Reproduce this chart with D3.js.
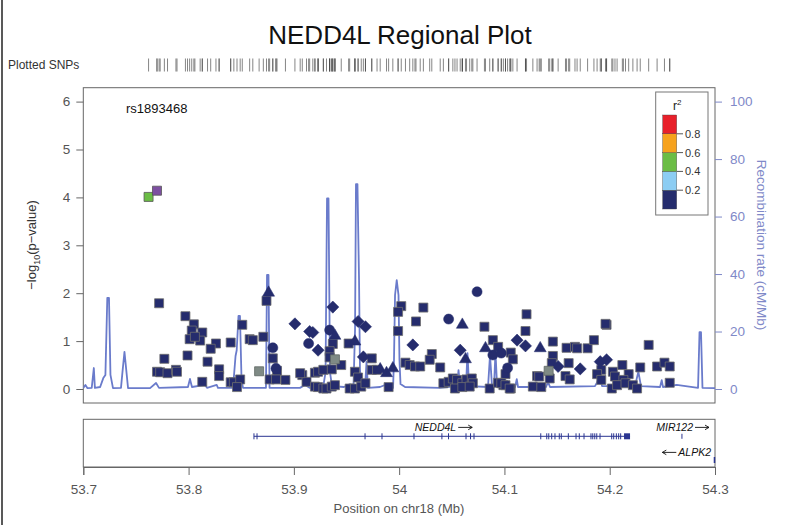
<!DOCTYPE html>
<html>
<head>
<meta charset="utf-8">
<script src="https://cdn.jsdelivr.net/npm/d3@7"></script>
<style>
  body { margin: 0; background: #fff; }
  svg { display: block; font-family: "Liberation Sans", Arial, Helvetica, sans-serif; }
</style>
</head>
<body>
<svg id="chart" width="785" height="525"></svg>
<script>
// ---- data -------------------------------------------------------------
const xTicks = [53.7, 53.8, 53.9, 54.0, 54.1, 54.2, 54.3];
const yTicks = [0, 1, 2, 3, 4, 5, 6];
const recombTicks = [0, 20, 40, 60, 80, 100];
const r2Breaks = [0.2, 0.4, 0.6, 0.8];
const r2Colors = ["#252c6d", "#8ccdf3", "#6bbd45", "#f6a21d", "#e8202a"];
const r2LegendLabels = ["0.2", "0.4", "0.6", "0.8"];

const leadSnp = { name: "rs1893468", pos: 53.770, logp: 4.14 };

// [position (Mb), -log10 p]
const snpSquares = [
  [53.772,1.79],[53.797,1.52],[53.805,1.35],[53.803,1.22],[53.813,1.18],[53.801,1.04],
  [53.811,1.01],[53.806,1.09],[53.826,0.95],[53.821,0.84],[53.840,0.97],[53.851,1.34],
  [53.858,1.04],[53.861,1.02],[53.871,1.09],[53.777,0.63],[53.799,0.70],[53.818,0.57],
  [53.770,0.36],[53.773,0.35],[53.780,0.33],[53.788,0.40],[53.789,0.36],[53.829,0.41],
  [53.829,0.27],[53.813,0.15],[53.840,0.14],[53.843,0.14],[53.849,0.20],[53.846,0.04],
  [53.874,1.84],[53.880,0.64],[53.884,0.38],[53.877,0.20],[53.883,0.20],[53.892,0.19],
  [53.908,0.29],[53.912,0.15],[53.937,0.94],[53.934,0.79],[53.934,0.66],[53.945,0.50],
  [53.906,0.33],[53.920,0.34],[53.923,0.36],[53.928,0.40],[53.936,0.41],
  [53.920,0.05],[53.923,0.04],[53.928,0.01],[53.931,0.01],[53.936,0.05],[53.939,0.08],
  [53.952,0.95],[53.974,0.64],[53.958,0.36],[53.961,0.24],[53.953,0.01],[53.958,0.01],
  [53.964,0.05],[53.968,0.12],[53.974,0.40],[53.979,0.40],[53.990,0.04],
  [54.002,1.73],[53.999,1.61],[54.023,1.70],[54.016,1.41],[53.999,1.21],
  [54.031,0.73],[54.029,0.61],[54.039,0.45],[54.006,0.55],[54.010,0.50],[54.015,0.47],
  [54.020,0.47],[54.081,1.30],[54.089,1.02],[54.094,0.88],[54.106,0.76],[54.108,0.62],
  [54.101,0.31],[54.042,0.12],[54.047,0.15],[54.051,0.22],[54.055,0.19],[54.060,0.12],
  [54.064,0.20],[54.069,0.22],[54.070,0.12],[54.053,0.01],[54.060,0.04],[54.067,0.05],
  [54.086,0.01],[54.094,0.13],[54.099,0.08],[54.106,0.01],
  [54.121,1.56],[54.120,1.21],[54.146,0.99],[54.146,0.69],[54.159,0.86],[54.167,0.88],
  [54.169,0.85],[54.179,0.85],[54.185,1.02],[54.197,1.34],[54.196,1.36],[54.237,0.92],
  [54.145,0.54],[54.161,0.54],[54.131,0.27],[54.133,0.26],[54.143,0.22],[54.158,0.27],
  [54.162,0.20],[54.192,0.40],[54.188,0.31],[54.192,0.19],[54.203,0.36],[54.205,0.26],
  [54.218,0.31],[54.213,0.19],[54.229,0.45],[54.245,0.47],[54.252,0.55],[54.257,0.47],
  [54.257,0.13],[54.097,0.12],[54.101,0.08],[54.105,0.01],[54.127,0.05],[54.135,0.04],
  [54.202,0.01],[54.207,0.08],[54.215,0.12],[54.222,0.08],[54.226,0.01],[54.212,0.50]
];
const snpDiamonds = [
  [53.901,1.36],[53.915,1.20],[53.937,1.71],[53.918,1.18],[53.923,0.81],[53.961,1.41],
  [53.968,1.30],[53.966,0.67],[54.013,0.92],[54.058,0.81],[54.112,1.02],[54.120,0.90],
  [54.151,0.47],[54.172,0.42],[54.191,0.57],[54.197,0.61]
];
const snpCircles = [
  [53.880,0.86],[53.883,0.43],[53.914,0.95],[53.934,1.23],[54.074,2.03],[54.047,1.46],
  [54.089,0.71],[54.097,0.75],[54.103,0.44]
];
const snpTriangles = [
  [53.876,2.01],[53.939,1.11],[53.958,0.99],[54.060,1.34],[54.063,0.62],[54.082,0.85],
  [54.134,0.85],[53.982,0.41],[53.988,0.33],[53.994,0.43]
];
// SNPs with no LD information
const snpNoLD = [[53.867,0.37],[53.939,0.62],[54.142,0.38]];
// SNPs with moderate LD to the lead SNP: [pos, -log10 p, r2]
const snpModerateLD = [[53.762,4.01,0.45]];

// recombination rate: [position (Mb), cM/Mb]
const recombination = [
  [53.700,0.4],[53.702,1.4],[53.704,0.3],[53.708,0.4],[53.710,7.3],[53.711,0.4],
  [53.716,0.7],[53.719,3.8],[53.721,4.9],[53.7228,31.7],[53.7244,31.7],[53.7258,4.9],
  [53.7282,0.3],[53.7358,0.4],[53.7372,5.9],[53.7391,12.9],[53.7410,5.9],[53.7425,0.3],
  [53.7634,0.3],[53.7691,2.1],[53.7719,0.4],[53.7994,0.7],[53.8013,3.5],[53.8032,0.7],
  [53.8156,1.4],[53.8175,0.4],[53.8267,1.4],[53.8279,0.4],[53.8422,0.4],[53.8446,11.5],
  [53.8457,13.5],[53.8474,25.4],[53.8488,25.4],[53.8503,3.1],[53.8517,0.4],[53.8735,0.4],
  [53.8745,39.7],[53.8759,39.7],[53.8769,0.4],[53.9058,0.4],[53.9106,1.4],[53.9153,0.4],
  [53.9277,0.4],[53.9301,5.9],[53.9315,66.3],[53.9329,66.3],[53.9343,5.9],[53.9362,1.0],
  [53.9476,0.7],[53.9533,1.7],[53.9566,0.4],[53.9581,20.5],[53.9590,71.3],[53.9604,71.3],
  [53.9619,37.9],[53.9628,6.6],[53.9642,0.4],[53.9676,0.4],[53.9690,9.4],[53.9704,0.4],
  [53.9818,0.7],[53.9866,1.4],[53.9913,0.4],[53.9942,0.4],[53.9951,10.1],[53.9961,32.7],
  [53.9977,37.9],[53.9994,32.7],[54.0003,10.1],[54.0013,1.7],[54.0056,0.7],[54.0388,0.4],
  [54.0550,1.0],[54.0564,6.6],[54.0578,1.0],[54.0635,1.0],[54.0649,12.5],[54.0664,1.0],
  [54.0844,0.7],[54.0863,11.8],[54.0882,1.0],[54.0901,0.7],[54.0915,12.9],[54.0930,1.0],
  [54.1101,0.7],[54.1117,3.4],[54.1129,0.7],[54.1395,0.7],[54.1414,2.5],[54.1433,0.7],
  [54.1860,1.0],[54.1877,2.1],[54.1908,4.3],[54.1927,1.0],[54.2240,1.0],[54.2272,6.0],
  [54.2297,1.0],[54.2478,0.7],[54.2494,3.1],[54.2506,0.7],[54.2636,1.4],[54.2839,0.4],
  [54.2853,19.8],[54.2867,19.8],[54.2881,0.4],[54.3000,0.3]
];

// genes in the region
const geneNEDD4L = { name: "NEDD4L", start: 53.8621, end: 54.2193, strand: "+" };
const exonsNEDD4L = [
  53.8621,53.8650,53.9676,53.9837,54.0141,54.0406,54.0469,54.0635,54.0678,54.0711,
  54.1345,54.1402,54.1421,54.1449,54.1480,54.1521,54.1540,54.1607,54.1680,54.1711,
  54.1756,54.1822,54.1839,54.1858,54.1877,54.1908,54.2019,54.2038,54.2063,54.2085,54.2104
];
const lastExonNEDD4L = [54.2136, 54.2193];
const geneMIR122 = { name: "MIR122", pos: 54.2686, strand: "+" };
const geneALPK2 = { name: "ALPK2", pos: 54.2995, strand: "-" };

// ---- layout -----------------------------------------------------------
const svg = d3.select("#chart");
const panel = { left: 83.3, right: 715, top: 87.7, bottom: 403 };
const genePanel = { top: 419.3, bottom: 467 };

const x = d3.scaleLinear().domain([53.7, 54.3]).range([panel.left, panel.right]);
const y = d3.scaleLinear().domain([0, 6]).range([389, 101.6]);
const yRecomb = d3.scaleLinear().domain([0, 100]).range([389, 101.6]);
const r2Color = d3.scaleThreshold().domain(r2Breaks).range(r2Colors);

const axisGray = "#666";
const textGray = "#555";
const recombBlue = "#6a7bcb";
const recombText = "#7f89c8";

// page edge rule
svg.append("line").attr("x1", 2).attr("x2", 2).attr("y1", 0).attr("y2", 525)
  .attr("stroke", "#222").attr("stroke-width", 1.5);

// title
svg.append("text").attr("x", 400).attr("y", 44).attr("text-anchor", "middle")
  .attr("font-size", 26).attr("fill", "#111").text("NEDD4L Regional Plot");

// plotted SNP rug
svg.append("text").attr("x", 8).attr("y", 68.5).attr("font-size", 12).attr("fill", "#333")
  .text("Plotted SNPs");
const allSnps = [].concat(snpSquares, snpDiamonds, snpCircles, snpTriangles, snpNoLD,
  snpModerateLD, [[leadSnp.pos, leadSnp.logp]]);
svg.append("g").selectAll("line").data(allSnps).join("line")
  .attr("x1", d => x(d[0])).attr("x2", d => x(d[0]))
  .attr("y1", 58.5).attr("y2", 71.5)
  .attr("stroke", "#333").attr("stroke-opacity", 0.6).attr("stroke-width", 1);

// main panel
svg.append("defs").append("clipPath").attr("id", "clip")
  .append("rect").attr("x", panel.left).attr("y", panel.top)
  .attr("width", panel.right - panel.left).attr("height", panel.bottom - panel.top);

svg.append("rect").attr("x", panel.left).attr("y", panel.top)
  .attr("width", panel.right - panel.left).attr("height", panel.bottom - panel.top)
  .attr("fill", "#fff").attr("stroke", axisGray).attr("stroke-width", 1);

// recombination rate line
const recombLine = d3.line().x(d => x(d[0])).y(d => yRecomb(d[1]));
svg.append("path").datum(recombination).attr("clip-path", "url(#clip)")
  .attr("d", recombLine).attr("fill", "none")
  .attr("stroke", recombBlue).attr("stroke-width", 1.8).attr("stroke-linejoin", "round");

// left axis
const yAxis = svg.append("g").attr("transform", `translate(${panel.left},0)`)
  .call(d3.axisLeft(y).tickValues(yTicks).tickSize(7).tickPadding(6).tickFormat(d3.format("d")));
yAxis.select(".domain").remove();
yAxis.selectAll("line").attr("stroke", axisGray);
yAxis.selectAll("text").attr("font-size", 13.5).attr("fill", textGray)
  .attr("font-family", "Liberation Sans, Arial, sans-serif");

const yLab = svg.append("text").attr("transform", "translate(36,245) rotate(-90)")
  .attr("text-anchor", "middle").attr("font-size", 13).attr("fill", "#333");
yLab.append("tspan").text("\u2212log");
yLab.append("tspan").attr("font-size", 9).attr("dy", 4).text("10");
yLab.append("tspan").attr("dy", -4).text("(p\u2212value)");

// right axis
const rAxis = svg.append("g").attr("transform", `translate(${panel.right},0)`)
  .call(d3.axisRight(yRecomb).tickValues(recombTicks).tickSize(7).tickPadding(8).tickFormat(d3.format("d")));
rAxis.select(".domain").remove();
rAxis.selectAll("line").attr("stroke", recombText);
rAxis.selectAll("text").attr("font-size", 13.5).attr("fill", recombText)
  .attr("font-family", "Liberation Sans, Arial, sans-serif");
svg.append("text").attr("transform", "translate(757,245) rotate(90)")
  .attr("text-anchor", "middle").attr("font-size", 13.5).attr("fill", recombText)
  .text("Recombination rate (cM/Mb)");

// association points
const pts = svg.append("g").attr("clip-path", "url(#clip)");
const navy = r2Colors[0];
const sym = (type, size) => d3.symbol().type(type).size(size)();

pts.selectAll(".sq").data(snpSquares).join("path").attr("class", "sq")
  .attr("d", sym(d3.symbolSquare, 81))
  .attr("transform", d => `translate(${x(d[0])},${y(d[1])})`)
  .attr("fill", navy).attr("stroke", "#6f6f6f").attr("stroke-width", 0.8);

pts.selectAll(".dm").data(snpDiamonds).join("path").attr("class", "dm")
  .attr("d", sym(d3.symbolSquare, 74))
  .attr("transform", d => `translate(${x(d[0])},${y(d[1])}) rotate(45)`)
  .attr("fill", navy).attr("stroke", navy).attr("stroke-width", 0.5);

pts.selectAll(".ci").data(snpCircles).join("path").attr("class", "ci")
  .attr("d", sym(d3.symbolCircle, 80))
  .attr("transform", d => `translate(${x(d[0])},${y(d[1])})`)
  .attr("fill", navy).attr("stroke", navy).attr("stroke-width", 0.5);

pts.selectAll(".tr").data(snpTriangles).join("path").attr("class", "tr")
  .attr("d", sym(d3.symbolTriangle, 62))
  .attr("transform", d => `translate(${x(d[0])},${y(d[1])})`)
  .attr("fill", navy).attr("stroke", navy).attr("stroke-width", 0.5);

pts.selectAll(".na").data(snpNoLD).join("path").attr("class", "na")
  .attr("d", sym(d3.symbolSquare, 81))
  .attr("transform", d => `translate(${x(d[0])},${y(d[1])})`)
  .attr("fill", "#7f8a85").attr("stroke", "#5f6763").attr("stroke-width", 0.8);

pts.selectAll(".ld").data(snpModerateLD).join("path").attr("class", "ld")
  .attr("d", sym(d3.symbolSquare, 81))
  .attr("transform", d => `translate(${x(d[0])},${y(d[1])})`)
  .attr("fill", d => r2Color(d[2])).attr("stroke", "#555").attr("stroke-width", 0.8);

pts.append("path").attr("d", sym(d3.symbolSquare, 81))
  .attr("transform", `translate(${x(leadSnp.pos)},${y(leadSnp.logp)})`)
  .attr("fill", "#7d4fa1").attr("stroke", "#555").attr("stroke-width", 0.8);

svg.append("text").attr("x", 126).attr("y", 112.5).attr("font-size", 13).attr("fill", "#111")
  .text(leadSnp.name);

// r2 legend
const leg = svg.append("g");
leg.append("rect").attr("x", 655.7).attr("y", 92).attr("width", 52.3).attr("height", 123)
  .attr("fill", "#fff").attr("stroke", "#777").attr("stroke-width", 1);
const legScale = d3.scaleLinear().domain([0, 1]).range([209, 115]);
const legBins = [0, ...r2Breaks, 1];
leg.selectAll(".bin").data(r2Colors).join("rect").attr("class", "bin")
  .attr("x", 662.7).attr("width", 14)
  .attr("y", (d, i) => legScale(legBins[i + 1]))
  .attr("height", (d, i) => legScale(legBins[i]) - legScale(legBins[i + 1]))
  .attr("fill", d => d).attr("stroke", "#444").attr("stroke-width", 0.4);
leg.selectAll(".tk").data(r2Breaks).join("line").attr("class", "tk")
  .attr("x1", 676.7).attr("x2", 683).attr("y1", d => legScale(d)).attr("y2", d => legScale(d))
  .attr("stroke", "#555");
leg.selectAll(".tl").data(r2Breaks).join("text").attr("class", "tl")
  .attr("x", 685).attr("y", d => legScale(d) + 4).attr("font-size", 11).attr("fill", "#333")
  .text((d, i) => r2LegendLabels[i]);
const r2t = leg.append("text").attr("x", 673).attr("y", 110).attr("font-size", 12).attr("fill", "#222");
r2t.append("tspan").text("r");
r2t.append("tspan").attr("font-size", 8).attr("dy", -5).text("2");

// gene panel
svg.append("rect").attr("x", panel.left).attr("y", genePanel.top)
  .attr("width", panel.right - panel.left).attr("height", genePanel.bottom - genePanel.top)
  .attr("fill", "#fff").attr("stroke", axisGray).attr("stroke-width", 1);

const geneY = 436.3;
const geneBlue = "#2b3591";
svg.append("line").attr("x1", x(geneNEDD4L.start)).attr("x2", x(geneNEDD4L.end))
  .attr("y1", geneY).attr("y2", geneY).attr("stroke", geneBlue).attr("stroke-width", 1);
svg.append("g").selectAll("line").data(exonsNEDD4L).join("line")
  .attr("x1", d => x(d)).attr("x2", d => x(d))
  .attr("y1", geneY - 3).attr("y2", geneY + 3)
  .attr("stroke", geneBlue).attr("stroke-width", 1);
svg.append("rect").attr("x", x(lastExonNEDD4L[0])).attr("y", geneY - 3)
  .attr("width", x(lastExonNEDD4L[1]) - x(lastExonNEDD4L[0])).attr("height", 6)
  .attr("fill", geneBlue);

// gene name with a strand arrow; `anchorX` is the label's left edge, centre or right edge
function geneLabel(name, strand, anchorX, baseline, align) {
  const g = svg.append("g");
  const t = g.append("text").attr("y", baseline).attr("font-size", 10.5)
    .attr("font-style", "italic").attr("fill", "#111").text(name);
  const tw = t.node().getComputedTextLength();
  const arrowLen = 14, gap = 2;
  const total = tw + gap + arrowLen;
  const left = align === "middle" ? anchorX - total / 2 : align === "end" ? anchorX - total : anchorX;
  const ay = baseline - 3.6;
  let tx, a0, a1;
  if (strand === "+") { tx = left; a0 = left + tw + gap; a1 = a0 + arrowLen; }
  else { a1 = left; a0 = left + arrowLen; tx = a0 + gap; }
  t.attr("x", tx);
  const dir = a1 > a0 ? 1 : -1;
  g.append("path")
    .attr("d", `M${a0},${ay}H${a1}M${a1 - dir * 4},${ay - 2.3}L${a1},${ay}L${a1 - dir * 4},${ay + 2.3}`)
    .attr("fill", "none").attr("stroke", "#111").attr("stroke-width", 0.9);
}
geneLabel(geneNEDD4L.name, geneNEDD4L.strand, 443.5, 431, "middle");

svg.append("line").attr("x1", x(geneMIR122.pos)).attr("x2", x(geneMIR122.pos))
  .attr("y1", geneY - 2.5).attr("y2", geneY + 2.5).attr("stroke", geneBlue);
geneLabel(geneMIR122.name, geneMIR122.strand, 709, 431, "end");

svg.append("line").attr("x1", x(geneALPK2.pos)).attr("x2", x(geneALPK2.pos))
  .attr("y1", 457).attr("y2", 463).attr("stroke", geneBlue).attr("stroke-width", 1.5);
geneLabel(geneALPK2.name, geneALPK2.strand, 711, 456, "end");

// x axis
const xAxis = svg.append("g").attr("transform", `translate(0,${genePanel.bottom})`)
  .call(d3.axisBottom(x).tickValues(xTicks).tickSize(8).tickPadding(9)
    .tickFormat(d => String(+d.toFixed(1))));
xAxis.select(".domain").attr("stroke", axisGray);
xAxis.selectAll("line").attr("stroke", axisGray);
xAxis.selectAll("text").attr("font-size", 13.5).attr("fill", textGray)
  .attr("font-family", "Liberation Sans, Arial, sans-serif");
svg.append("text").attr("x", 399).attr("y", 513).attr("text-anchor", "middle")
  .attr("font-size", 13).attr("fill", textGray).text("Position on chr18 (Mb)");
</script>
</body>
</html>
